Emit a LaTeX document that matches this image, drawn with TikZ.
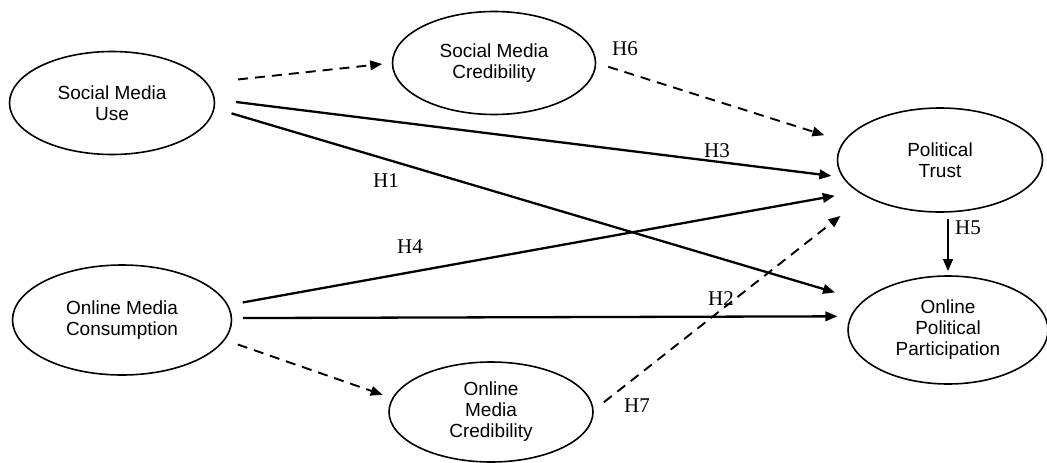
\documentclass[tikz,border=0pt]{standalone}
\usepackage{fontspec}
\setmainfont{Liberation Serif}
\newfontfamily\nodefont{Liberation Sans}
\usetikzlibrary{shapes.geometric,arrows.meta}
\begin{document}
\begin{tikzpicture}[x=1pt,y=-1pt,
  construct/.style={draw,ellipse,line width=1.6pt,inner sep=0pt,align=center,
    font=\nodefont\fontsize{19}{21}\selectfont},
  arr/.style={line width=2.3pt,-{Triangle[length=12pt,width=9.5pt]}},
  darr/.style={arr,line width=1.9pt,dash pattern=on 10pt off 7pt},
  hlab/.style={inner sep=0pt,font=\fontsize{21}{21}\selectfont}]
\useasboundingbox (0,0) rectangle (1047,463);
\node[construct,minimum width=205pt,minimum height=103pt] (smu) at (112,103) {Social Media\\Use};
\node[construct,minimum width=203pt,minimum height=103pt] (smc) at (494,63) {Social Media\\Credibility};
\node[construct,minimum width=205pt,minimum height=104pt] (pt) at (940,160) {Political\\Trust};
\node[construct,minimum width=219pt,minimum height=110pt] (omc) at (122,320) {Online Media\\Consumption};
\node[construct,minimum width=204pt,minimum height=100pt] (omcr) at (491,412) {Online\\Media\\Credibility};
\node[construct,minimum width=200pt,minimum height=108pt] (opp) at (948,330) {Online\\Political\\Participation};

\draw[darr,shorten <=31pt,shorten >=9.5pt] (smu.12.7) -- (smc.180);
\draw[arr,shorten <=21pt,shorten >=11pt] (smu.2.3) -- (pt.190.6);
\draw[arr,shorten <=17.5pt,shorten >=29pt] (smu.-3.85) -- (opp.161.9);
\draw[darr,shorten <=12.5pt,shorten >=20pt] (smc.0) -- (pt.169.7);
\draw[arr,shorten <=14.7pt,shorten >=23pt] (omc.8.06) -- (pt.201.2);
\draw[arr,shorten <=10.6pt,shorten >=13pt] (omc.1) -- (opp.172.2);
\draw[darr,shorten <=13.6pt,shorten >=10pt] (omc.-11.3) -- (omcr.172.1);
\draw[darr,shorten <=13pt,shorten >=31.5pt] (omcr.1.5) -- (pt.206.1);
\draw[arr,shorten <=6pt,shorten >=4pt] (opp.north |- pt.south) -- (opp.north);

\node[hlab] (h6) at (625,49) {H6};
\node[hlab] (h3) at (717,151) {H3};
\node[hlab] (h1) at (386,181) {H1};
\node[hlab] (h4) at (410,247) {H4};
\node[hlab] (h2) at (721,299) {H2};
\node[hlab] (h7) at (637,406) {H7};
\node[hlab] (h5) at (968,228) {H5};
\end{tikzpicture}
\end{document}
